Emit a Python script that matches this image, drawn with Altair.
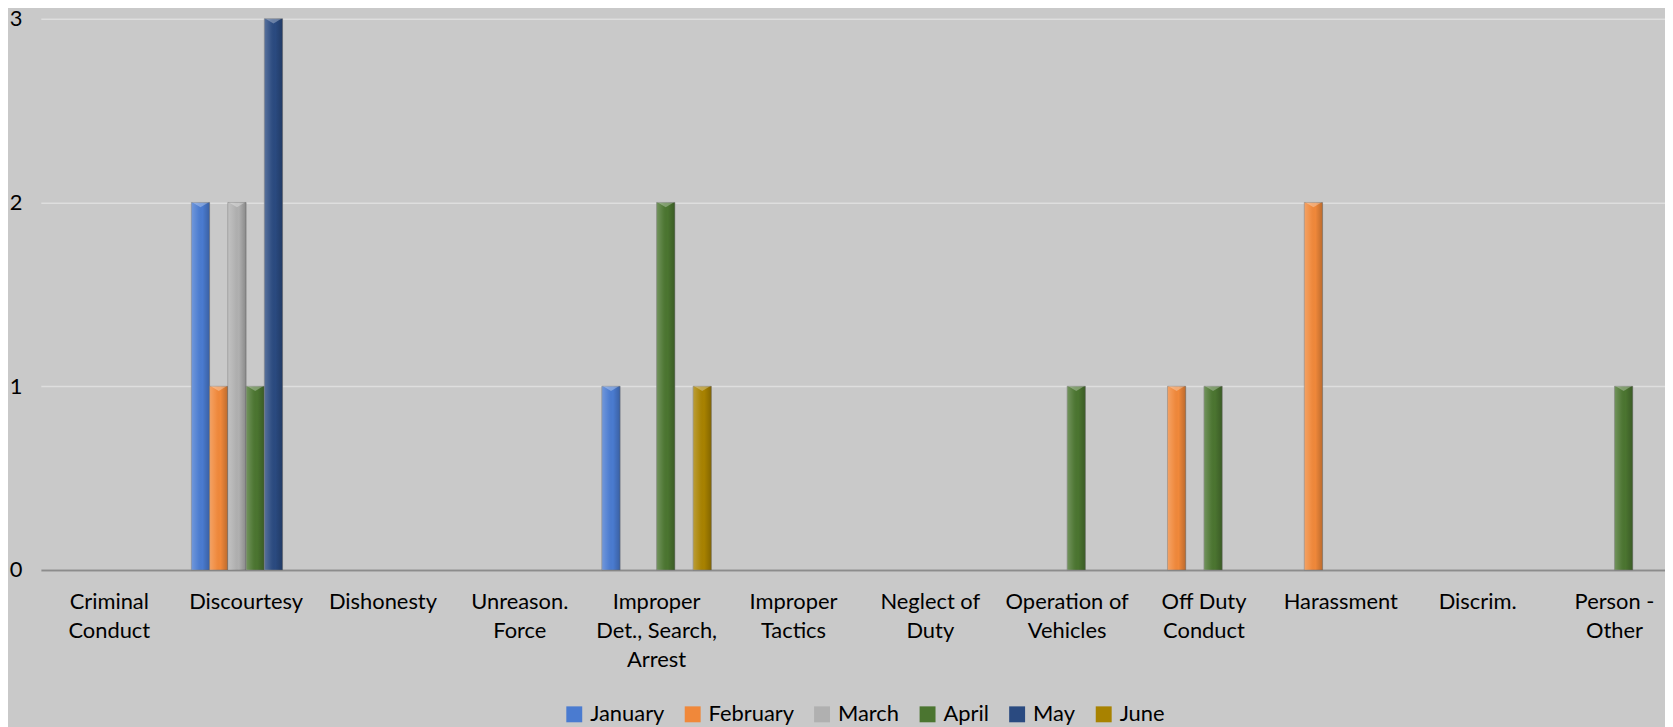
import altair as alt
import pandas as pd

categories = ["Criminal\nConduct", "Discourtesy", "Dishonesty", "Unreason.\nForce",
              "Improper\nDet., Search,\nArrest", "Improper\nTactics", "Neglect of\nDuty",
              "Operation of\nVehicles", "Off Duty\nConduct", "Harassment", "Discrim.",
              "Person -\nOther"]
months = ["January", "February", "March", "April", "May", "June"]
january = [0, 2, 0, 0, 1, 0, 0, 0, 0, 0, 0, 0]
february = [0, 1, 0, 0, 0, 0, 0, 0, 1, 2, 0, 0]
march = [0, 2, 0, 0, 0, 0, 0, 0, 0, 0, 0, 0]
april = [0, 1, 0, 0, 2, 0, 0, 1, 1, 0, 0, 1]
may = [0, 3, 0, 0, 0, 0, 0, 0, 0, 0, 0, 0]
june = [0, 0, 0, 0, 1, 0, 0, 0, 0, 0, 0, 0]
colors = ["#4A7BD0", "#F0883A", "#B0B0B0", "#4B7530", "#2A4A80", "#A88200"]
y_ticks = [0, 1, 2, 3]

series = [january, february, march, april, may, june]
rows = []
for m, vals in zip(months, series):
    for c, v in zip(categories, vals):
        if v > 0:
            rows.append({"category": c, "month": m, "value": v})
df = pd.DataFrame(rows)

FONT = "Lato"

x = alt.X("category:N", sort=categories,
          scale=alt.Scale(domain=categories, range=[0, 1650], paddingInner=0.2, paddingOuter=0.1),
          axis=alt.Axis(title=None, labelAngle=0, labelFont=FONT, labelFontSize=22,
                        labelColor="#000000", labelPadding=22, labelLineHeight=29,
                        labelExpr="split(datum.label, '\\n')", labelOverlap=False,
                        labelLimit=0, ticks=False, grid=False,
                        domainColor="#8C8C8C", domainWidth=2))
xo = alt.XOffset("month:N", sort=months, scale=alt.Scale(domain=months))
y = alt.Y("value:Q", scale=alt.Scale(domain=[0, 3], nice=False),
          axis=alt.Axis(title=None, values=y_ticks, format="d", domain=False, ticks=False,
                        gridColor="#DEDEDE", gridWidth=1.5, labelFont=FONT,
                        labelFontSize=22, labelColor="#000000", labelPadding=19))

base = alt.Chart(df).encode(x=x, xOffset=xo, y=y)

bars = base.mark_bar(stroke="#7A7A7A", strokeWidth=0.8, strokeOpacity=0.7).encode(
    color=alt.Color("month:N", sort=months,
                    scale=alt.Scale(domain=months, range=colors),
                    legend=alt.Legend(title=None, orient="none", legendX=525, legendY=688,
                                      direction="horizontal", symbolType="square",
                                      symbolSize=256, symbolStrokeWidth=0,
                                      labelFont=FONT, labelFontSize=22, labelColor="#000000",
                                      labelOffset=5, columnPadding=17, padding=0))
)

shade = base.mark_bar(fill=alt.Gradient(
    gradient="linear", x1=0, x2=1, y1=0, y2=0,
    stops=[alt.GradientStop(color="rgba(255,255,255,0.22)", offset=0),
           alt.GradientStop(color="rgba(255,255,255,0.05)", offset=0.35),
           alt.GradientStop(color="rgba(0,0,0,0.0)", offset=0.6),
           alt.GradientStop(color="rgba(0,0,0,0.22)", offset=1)]))

tri = base.mark_point(shape="M-1,0L1,0L0,0.6Z", filled=True, color="white",
                      opacity=0.3, size=256, strokeWidth=0)

chart = alt.layer(bars, shade, tri).properties(
    width=1632, height=554,
    autosize=alt.AutoSizeParams(type="none"),
    padding={"left": 33, "top": 9, "right": 0, "bottom": 156},
    background="#C9C9C9",
).configure_view(stroke="transparent")

chart.save("out.html", embed_options={"renderer": "svg", "actions": False})
